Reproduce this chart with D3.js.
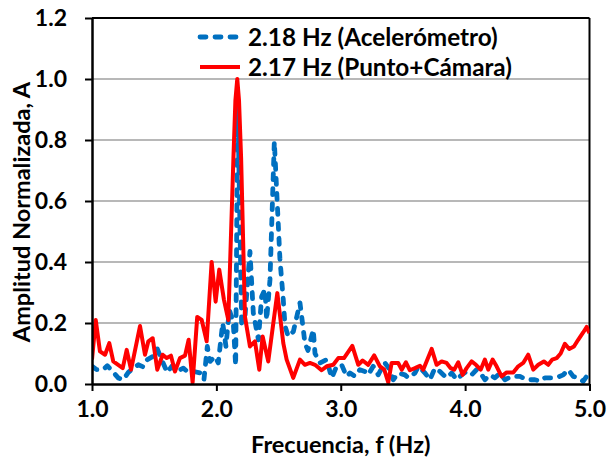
<!DOCTYPE html>
<html><head><meta charset="utf-8">
<script src="https://cdn.jsdelivr.net/npm/d3@7"></script>
<style>
html,body{margin:0;padding:0;background:#fff;}
text{font-family:Lato,"Open Sans",sans-serif;font-weight:700;fill:#000;}
</style></head>
<body><svg id="c" width="608" height="459"></svg>
<script>
// Frequencies (Hz) and normalized amplitudes
const accelFreq = [1.000,1.038,1.091,1.123,1.166,1.211,1.252,1.292,1.332,1.372,1.412,1.445,1.488,1.525,1.560,1.605,1.641,1.681,1.734,1.774,1.820,1.874,1.900,1.927,1.949,1.989,2.015,2.051,2.077,2.104,2.136,2.155,2.172,2.203,2.230,2.270,2.297,2.338,2.364,2.391,2.404,2.431,2.466,2.511,2.538,2.552,2.578,2.619,2.672,2.699,2.712,2.736,2.779,2.793,2.833,2.887,2.927,2.967,3.007,3.047,3.074,3.114,3.154,3.195,3.221,3.261,3.301,3.315,3.355,3.395,3.422,3.462,3.516,3.543,3.597,3.624,3.677,3.717,3.757,3.797,3.851,3.892,3.932,3.972,4.012,4.052,4.092,4.133,4.159,4.199,4.240,4.280,4.320,4.374,4.441,4.495,4.561,4.601,4.641,4.695,4.748,4.789,4.829,4.869,4.909,4.949,4.977,5.000];
const accelAmp = [0.058,0.047,0.047,0.060,0.041,0.020,0.014,0.038,0.052,0.063,0.056,0.080,0.090,0.115,0.080,0.038,0.058,0.041,0.052,0.038,0.041,0.036,0.014,0.123,0.074,0.090,0.069,0.200,0.123,0.244,0.200,0.060,0.935,0.200,0.220,0.435,0.233,0.145,0.287,0.310,0.210,0.342,0.795,0.410,0.276,0.190,0.156,0.172,0.266,0.178,0.134,0.110,0.178,0.100,0.069,0.080,0.020,0.058,0.063,0.025,0.036,0.025,0.047,0.041,0.030,0.058,0.030,0.041,0.069,0.047,0.014,0.036,0.030,0.020,0.036,0.058,0.036,0.014,0.052,0.041,0.020,0.036,0.014,0.030,0.041,0.030,0.047,0.030,0.014,0.030,0.020,0.036,0.014,0.025,0.025,0.014,0.014,0.009,0.020,0.020,0.023,0.030,0.047,0.025,0.020,0.009,0.025,0.041];

const cameraFreq = [1.000,1.030,1.064,1.105,1.139,1.171,1.247,1.279,1.314,1.386,1.426,1.453,1.488,1.525,1.568,1.600,1.635,1.667,1.707,1.748,1.777,1.809,1.846,1.882,1.922,1.962,1.994,2.023,2.061,2.096,2.137,2.153,2.168,2.182,2.199,2.230,2.270,2.310,2.345,2.372,2.417,2.490,2.538,2.565,2.618,2.672,2.712,2.752,2.793,2.846,2.887,2.940,2.980,3.026,3.093,3.141,3.176,3.221,3.269,3.315,3.350,3.382,3.409,3.462,3.490,3.524,3.556,3.597,3.637,3.663,3.731,3.771,3.811,3.851,3.884,3.912,3.945,3.980,4.012,4.052,4.087,4.125,4.159,4.186,4.221,4.253,4.293,4.334,4.387,4.427,4.467,4.507,4.548,4.588,4.633,4.668,4.700,4.736,4.768,4.802,4.837,4.875,4.909,4.949,4.977,5.000];
const cameraAmp = [0.080,0.210,0.107,0.096,0.134,0.074,0.052,0.112,0.047,0.190,0.096,0.140,0.150,0.047,0.096,0.085,0.093,0.041,0.085,0.093,0.145,0.005,0.220,0.210,0.140,0.400,0.270,0.375,0.276,0.210,0.740,0.930,1.000,0.930,0.740,0.220,0.123,0.140,0.047,0.156,0.074,0.298,0.134,0.080,0.020,0.080,0.063,0.069,0.063,0.045,0.058,0.063,0.085,0.085,0.125,0.063,0.077,0.063,0.094,0.058,0.047,0.005,0.069,0.069,0.047,0.071,0.045,0.052,0.060,0.047,0.115,0.063,0.074,0.069,0.052,0.047,0.071,0.030,0.052,0.074,0.063,0.047,0.080,0.047,0.080,0.058,0.025,0.038,0.038,0.058,0.069,0.096,0.047,0.063,0.074,0.063,0.080,0.085,0.100,0.132,0.115,0.123,0.145,0.169,0.187,0.167];

const xTicks = [1.0, 2.0, 3.0, 4.0, 5.0];
const yTicks = [0.0, 0.2, 0.4, 0.6, 0.8, 1.0, 1.2];
const seriesNames = ["2.18 Hz (Acelerómetro)", "2.17 Hz (Punto+Cámara)"];
const xTitle = "Frecuencia, f (Hz)";
const yTitle = "Amplitud Normalizada, A";

const m = {l:92, t:18, r:18.5, b:75};
const W = 608, H = 459;
const pw = W - m.l - m.r, ph = H - m.t - m.b;
const svg = d3.select("#c");
const x = d3.scaleLinear().domain([1,5]).range([m.l, m.l+pw]);
const y = d3.scaleLinear().domain([0,1.2]).range([m.t+ph, m.t]);

// gridlines
svg.append("g").selectAll("line").data(yTicks.filter(v=>v>0 && v<1.2)).join("line")
  .attr("x1", x(1)).attr("x2", x(5)).attr("y1", d=>y(d)).attr("y2", d=>y(d))
  .attr("stroke","#a0a0a0").attr("stroke-width",1.6);

// frame top/right
svg.append("line").attr("x1",x(1)).attr("x2",x(5)).attr("y1",y(1.2)).attr("y2",y(1.2)).attr("stroke","#000").attr("stroke-width",2);
svg.append("line").attr("x1",x(5)).attr("x2",x(5)).attr("y1",y(1.2)).attr("y2",y(0)).attr("stroke","#000").attr("stroke-width",2);

svg.append("clipPath").attr("id","pc").append("rect")
  .attr("x",m.l).attr("y",m.t-10).attr("width",pw).attr("height",ph+10);

const line = d3.line().x(d=>x(d[0])).y(d=>y(d[1]));
const accel = accelFreq.map((f,i)=>[f, accelAmp[i]]);
const camera = cameraFreq.map((f,i)=>[f, cameraAmp[i]]);

const gl = svg.append("g").attr("clip-path","url(#pc)");
gl.append("path").datum(accel).attr("d",line).attr("fill","none")
  .attr("stroke","#0070C0").attr("stroke-width",4.8).attr("stroke-dasharray","6,9")
  .attr("stroke-linecap","round").attr("stroke-linejoin","round");
gl.append("path").datum(camera).attr("d",line).attr("fill","none")
  .attr("stroke","#FF0000").attr("stroke-width",4).attr("stroke-linejoin","round");

// axes
const FS = 23;
const xAxis = d3.axisBottom(x).tickValues(xTicks).tickFormat(d3.format(".1f")).tickSizeOuter(0).tickSizeInner(7).tickPadding(10);
const gx = svg.append("g").attr("transform",`translate(0,${y(0)})`).call(xAxis);
gx.select(".domain").attr("stroke","#000").attr("stroke-width",2.5);
gx.selectAll(".tick line").attr("stroke","#000").attr("stroke-width",2);
gx.selectAll(".tick text").attr("font-size",FS).attr("font-family","Lato").attr("font-weight",700).attr("fill","#000");

const yAxis = d3.axisLeft(y).tickValues(yTicks).tickFormat(d3.format(".1f")).tickSizeOuter(0).tickSizeInner(7).tickPadding(18);
const gy = svg.append("g").attr("transform",`translate(${x(1)},0)`).call(yAxis);
gy.select(".domain").attr("stroke","#000").attr("stroke-width",2.5);
gy.selectAll(".tick line").attr("stroke","#000").attr("stroke-width",2);
gy.selectAll(".tick text").attr("font-size",FS).attr("font-family","Lato").attr("font-weight",700).attr("fill","#000");

// titles
svg.append("text").attr("x", m.l+pw/2).attr("y", 453).attr("text-anchor","middle")
  .attr("font-size",23.5).text(xTitle);
svg.append("text").attr("transform",`translate(30,${212}) rotate(-90)`).attr("text-anchor","middle")
  .attr("font-size",23.5).text(yTitle);

// legend
const lg = svg.append("g");
const rows = [{y:37, color:"#0070C0", dash:"6,9", w:4.8, cap:"round"},{y:67, color:"#FF0000", dash:null, w:4, cap:"butt"}];
rows.forEach((r,i)=>{
  lg.append("line").attr("x1",200).attr("x2",240).attr("y1",r.y).attr("y2",r.y)
    .attr("stroke",r.color).attr("stroke-width",r.w).attr("stroke-dasharray",r.dash).attr("stroke-linecap",r.cap);
  lg.append("text").attr("x",248).attr("y",r.y).attr("dy","0.35em").attr("font-size",24.3).text(seriesNames[i]);
});
</script></body></html>
